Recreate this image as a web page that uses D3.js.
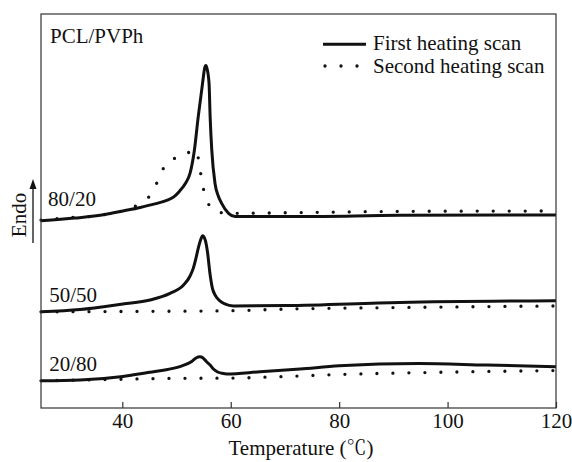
<!DOCTYPE html>
<html><head><meta charset="utf-8">
<script src="https://cdn.jsdelivr.net/npm/d3@7"></script>
</head>
<body style="margin:0;background:#fff"><svg id="c" width="572" height="462"></svg>
<script>
// Temperature (°C) sample positions and heat-flow values (a.u., offset per blend)
const t8020first  = [25.0,31.3,36.8,40.1,43.3,46.0,48.2,49.5,50.6,51.6,52.5,53.3,54.0,54.8,55.2,55.4,55.6,56.0,56.2,56.5,57.1,57.7,58.3,59.6,60.8,72.8,91.2,120];
const v8020first  = [47.5,48.2,49.1,50.0,50.9,51.8,52.7,53.6,55.1,56.9,59.6,65.5,73.9,82.4,86.3,86.9,86.3,82.4,73.9,65.5,57.0,53.8,52.0,49.4,48.6,48.6,48.9,49.0];
const t8020second = [25.0,31.3,34.2,37.1,40.1,43.1,45.6,47.0,48.2,49.5,50.9,52.1,53.1,53.8,54.2,54.6,55.4,56.0,56.9,59.9,72.8,91.2,120];
const v8020second = [47.7,48.4,48.6,49.2,50.1,51.8,54.9,59.1,62.3,63.3,63.5,64.7,65.7,64.2,62.4,58.0,53.8,51.5,50.0,49.4,49.6,49.9,50.0];
const t5050first  = [25.0,32.2,40.1,45.1,48.8,51.3,52.5,53.1,53.6,54.0,54.5,54.8,55.3,55.7,56.2,56.6,57.1,58.0,58.9,60.5,70.2,91.2,120];
const v5050first  = [24.4,25.0,26.4,27.4,29.1,31.2,33.5,35.5,38.1,40.5,42.9,43.7,42.6,39.7,33.8,30.5,28.7,27.2,26.4,25.9,26.0,26.8,27.2];
const t5050second = [25.0,40.1,60.4,70.2,91.2,120];
const v5050second = [24.4,24.5,24.7,25.1,25.5,25.9];
const t2080first  = [25.0,32.2,40.1,45.1,47.6,50.6,52.8,53.6,54.3,54.9,55.5,56.2,56.8,57.5,58.4,59.3,65.4,72.8,80.0,94.7,107.1,120];
const v2080first  = [6.9,7.1,8.0,9.1,9.6,10.5,11.8,12.7,13.0,12.7,11.8,10.9,9.9,9.2,8.8,8.6,9.2,9.9,10.7,11.3,10.9,10.5];
const t2080second = [25.0,40.1,47.9,60.4,70.2,80.0,100.0,120];
const v2080second = [6.9,7.3,7.5,7.6,8.0,8.5,9.1,9.5];

const blendLabels = ["80/20","50/50","20/80"];
const blendLabelT = [26.3,26.5,26.5];
const blendLabelV = [51.3,27.0,9.4];
const xTicks = [40,60,80,100,120];
const seriesNames = ["First heating scan","Second heating scan"];

const SERIF='"Liberation Serif"';
const FS="21px";
const L=41,R=556,T=14,B=408;
const svg=d3.select("#c");
const x=d3.scaleLinear().domain([25,120]).range([L,R]);
const y=d3.scaleLinear().domain([0,100]).range([B,T]);

const zip=(a,b)=>a.map((d,i)=>[d,b[i]]);
const line=d3.line().x(d=>x(d[0])).y(d=>y(d[1])).curve(d3.curveMonotoneX);

const solid=[zip(t8020first,v8020first),zip(t5050first,v5050first),zip(t2080first,v2080first)];
const dotted=[zip(t8020second,v8020second),zip(t5050second,v5050second),zip(t2080second,v2080second)];

svg.selectAll("path.dot").data(dotted).join("path").attr("class","dot")
  .attr("d",line).attr("fill","none").attr("stroke","#111")
  .attr("stroke-width",3.3).attr("stroke-linecap","round").attr("stroke-dasharray","0 16");
svg.selectAll("path.sol").data(solid).join("path").attr("class","sol")
  .attr("d",line).attr("fill","none").attr("stroke","#111")
  .attr("stroke-width",3).attr("stroke-linejoin","round");

// frame
svg.append("rect").attr("x",L).attr("y",T).attr("width",R-L).attr("height",B-T)
  .attr("fill","none").attr("stroke","#333").attr("stroke-width",1.2);

// x axis
const ax=svg.append("g").attr("transform",`translate(0,${B})`)
  .call(d3.axisBottom(x).tickValues(xTicks).tickSizeInner(-6).tickSizeOuter(0).tickPadding(5.5));
ax.select(".domain").remove();
ax.selectAll("line").attr("stroke","#333").attr("stroke-width",1.2);
ax.selectAll("text").style("font-family",SERIF).style("font-size",FS).attr("fill","#111");

const txt=(sel)=>sel.style("font-family",SERIF).style("font-size",FS).attr("fill","#111");

const xt=txt(svg.append("text").attr("x",301).attr("y",455).attr("text-anchor","middle"));
xt.append("tspan").text("Temperature (");
xt.append("tspan").style("font-family",'"Noto Serif CJK SC"').style("font-size","20px").text("℃");
xt.append("tspan").text(")");

// Endo label with arrow
txt(svg.append("text").attr("transform","translate(26,215) rotate(-90)").attr("text-anchor","middle")).text("Endo");
svg.append("line").attr("x1",33).attr("x2",33).attr("y1",243).attr("y2",186)
  .attr("stroke","#111").attr("stroke-width",1.3);
svg.append("path").attr("d","M33,179 L29.5,189 L36.5,189 Z").attr("fill","#111");

// title
txt(svg.append("text").attr("x",50).attr("y",43)).text("PCL/PVPh");

// blend labels
txt(svg.selectAll("text.bl").data(blendLabels).join("text").attr("class","bl")
  .attr("x",(d,i)=>x(blendLabelT[i])).attr("y",(d,i)=>y(blendLabelV[i]))).text(d=>d);

// legend
svg.append("line").attr("x1",323).attr("x2",366).attr("y1",44.3).attr("y2",44.3)
  .attr("stroke","#111").attr("stroke-width",3);
svg.append("line").attr("x1",325).attr("x2",358).attr("y1",66).attr("y2",66)
  .attr("stroke","#111").attr("stroke-width",3.3).attr("stroke-linecap","round").attr("stroke-dasharray","0 16");
txt(svg.append("text").attr("x",373).attr("y",50)).text(seriesNames[0]);
txt(svg.append("text").attr("x",373).attr("y",73)).text(seriesNames[1]);
</script></body></html>
